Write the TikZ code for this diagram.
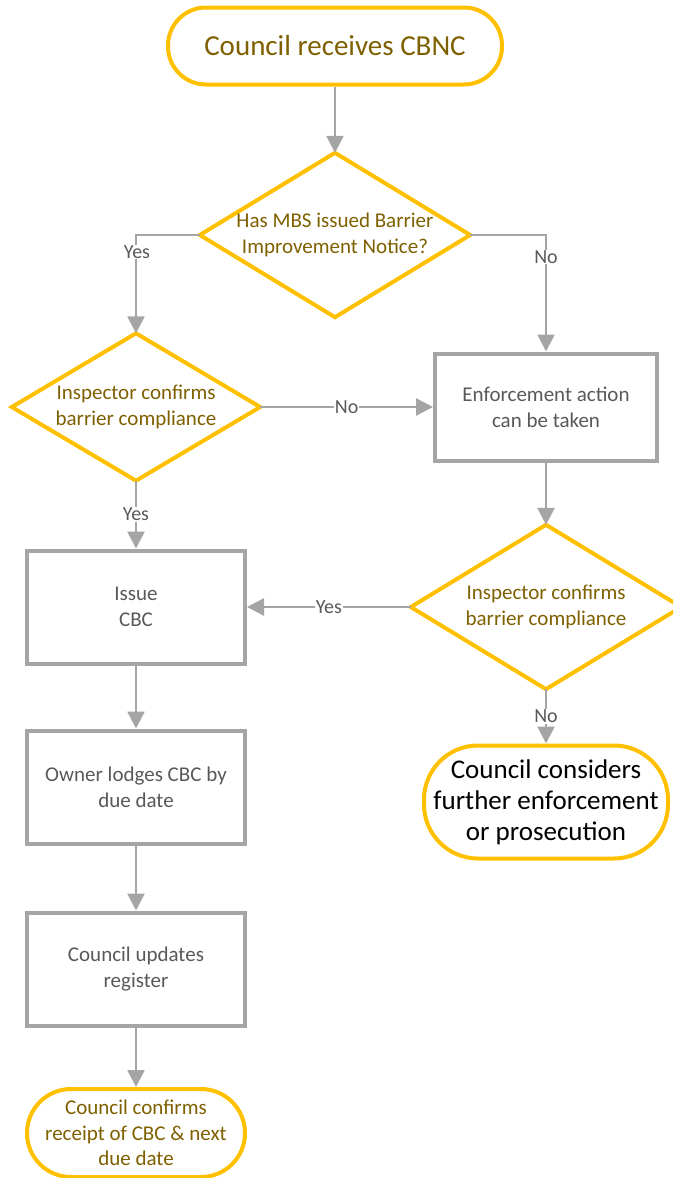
\documentclass[tikz,border=0pt]{standalone}
\usepackage{fontspec}
\setmainfont{Carlito}
\usetikzlibrary{arrows.meta}
\definecolor{gold}{HTML}{FFC000}
\definecolor{brownt}{HTML}{7F6000}
\definecolor{lgray}{HTML}{A5A5A5}
\definecolor{dgray}{HTML}{595959}
\tikzset{
  term/.style={draw=gold, line width=4pt, fill=white, text=brownt, align=center, inner sep=0pt},
  procbox/.style={draw=lgray, line width=4pt, fill=white, text=dgray, align=center, inner sep=0pt, minimum width=218pt, minimum height=113pt, font=\fontsize{21}{26}\selectfont},
  dec/.style={inner sep=0pt, minimum width=270pt, minimum height=164pt},
  dectext/.style={text=brownt, align=center, font=\fontsize{21}{26}\selectfont},
  decline/.style={draw=gold, line width=4pt, line join=miter, fill=white},
  conn/.style={draw=lgray, line width=2.5pt, -{Triangle[length=17pt,width=17pt]}},
  lab/.style={fill=white, text=dgray, inner sep=1pt, font=\fontsize{20}{22}\selectfont}
}
\begin{document}
\begin{tikzpicture}[x=1pt,y=-1pt]
\useasboundingbox (0,0) rectangle (673,1178);
\clip (0,0) rectangle (673,1178);
% nodes
\node[term, minimum width=334pt, minimum height=77pt, rounded corners=38pt, font=\fontsize{29}{32}\selectfont] (start) at (335,46) {Council receives CBNC};
\node[dec] (d1) at (335,235) {};
\node[dec, minimum width=248pt, minimum height=147pt] (d2) at (136,407) {};
\node[procbox, minimum width=222pt, minimum height=107pt] (enf) at (546,407) {Enforcement action\\can be taken};
\node[dec] (d3) at (546,607) {};
\node[procbox] (issue) at (136,607) {Issue\\CBC};
\node[procbox] (owner) at (136,787) {Owner lodges CBC by\\due date};
\node[procbox] (upd) at (136,969) {Council updates\\register};
\node[term, minimum width=244pt, minimum height=113pt, rounded corners=54pt, text=black, font=\fontsize{27}{31}\selectfont] (cons) at (546,802) {Council considers\\further enforcement\\or prosecution};
\node[term, minimum width=218pt, minimum height=88pt, rounded corners=44pt, font=\fontsize{21}{25.5}\selectfont] (fin) at (136,1133) {Council confirms\\receipt of CBC \& next\\due date};
% diamond outlines and texts
\foreach \d in {d1,d2,d3}{
  \draw[decline] (\d.north) -- (\d.east) -- (\d.south) -- (\d.west) -- cycle;
}
\node[dectext] (d1t) at (d1) {Has MBS issued Barrier\\Improvement Notice?};
\node[dectext] (d2t) at (d2) {Inspector confirms\\barrier compliance};
\node[dectext] (d3t) at (d3) {Inspector confirms\\barrier compliance};
% connectors
\draw[conn] (start) -- (d1.north);
\coordinate (c1) at (d2.north |- d1.west);
\coordinate (c2) at (enf.north |- d1.east);
\draw[conn] (d1.west) -- (c1) -- (d2.north);
\draw[conn] (d1.east) -- (c2) -- (enf.north);
\node[lab] (ly1) at (137,252) {Yes};
\node[lab] (ln1) at (546,257) {No};
\draw[conn] (d2.east) -- (enf.west) node[lab, pos=0.5] (ln2) {No};
\draw[conn] (d2.south) -- (issue.north) node[lab, pos=0.5] (ly2) {Yes};
\draw[conn] (enf.south) -- (d3.north);
\draw[conn] (d3.west) -- (issue.east) node[lab, pos=0.5] (ly3) {Yes};
\draw[conn] (d3.south) -- (cons.north) node[lab, pos=0.5] (ln3) {No};
\draw[conn] (issue) -- (owner);
\draw[conn] (owner) -- (upd);
\draw[conn] (upd) -- (fin);
\end{tikzpicture}
\end{document}
